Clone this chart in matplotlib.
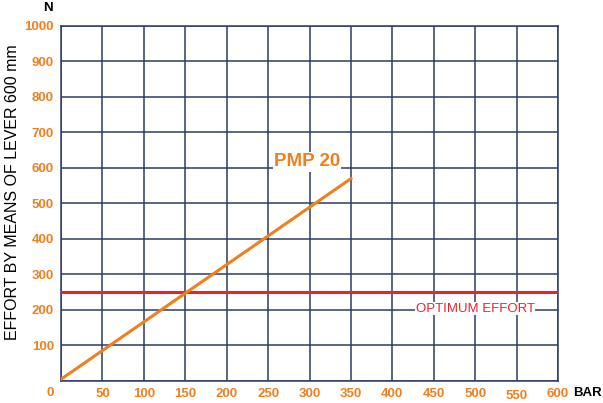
import matplotlib
matplotlib.use("Agg")
import matplotlib.pyplot as plt
import matplotlib.transforms as mtransforms

plt.rcParams["font.family"] = ["Liberation Sans", "DejaVu Sans"]

bar_values = [0, 350]
effort_values = [5, 570]
optimum_effort = 250
x_ticks = list(range(50, 601, 50))
y_ticks = list(range(100, 1001, 100))
series_label = "PMP 20"
optimum_label = "OPTIMUM EFFORT"

orange = "#f07f1e"
red = "#e4262b"
navy = "#2e3b66"

fig = plt.figure(figsize=(6.03, 4.03), dpi=100)
ax = fig.add_axes([0.1012, 0.0546, 0.8242, 0.881])
ax.set_xlim(0, 600)
ax.set_ylim(0, 1000)

ax.set_xticks(list(range(0, 601, 50)))
ax.set_yticks(list(range(0, 1001, 100)))
ax.grid(True, color=navy, linewidth=1.1)
ax.set_axisbelow(True)
for s in ax.spines.values():
    s.set_color(navy)
    s.set_linewidth(1.1)
ax.tick_params(length=0, colors=orange, labelsize=9.5)
ax.tick_params(axis="x", pad=5)
ax.tick_params(axis="y", pad=5)
ax.set_xticklabels([""] + [("" if v == 550 else str(v)) for v in x_ticks],
                   fontweight="bold", color=orange)
ax.set_yticklabels([""] + [str(v) for v in y_ticks], fontweight="bold", color=orange)

# the 550 label sits slightly lower in the reference
trans = mtransforms.blended_transform_factory(ax.transData, fig.transFigure)
ax.text(550, 1 - 396 / 403, "550", transform=trans, color=orange, fontsize=9.5,
        fontweight="bold", ha="center", va="center", clip_on=False)

ax.plot([0, 600], [optimum_effort, optimum_effort], color=red, linewidth=2.2, zorder=3)
ax.plot(bar_values, effort_values, color=orange, linewidth=2.2, zorder=4)

ax.text(297, 617, series_label, color=orange, fontsize=13.5, fontweight="bold",
        ha="center", va="center", zorder=5,
        bbox=dict(facecolor="white", edgecolor="none", pad=1))
ax.text(500, 204, optimum_label, color=red, fontsize=9.5,
        ha="center", va="center", zorder=5,
        bbox=dict(facecolor="white", edgecolor="none", pad=0.5))

fig.text(50 / 603, 1 - 393 / 403, "0", color=orange, fontsize=9.5, fontweight="bold",
         ha="center", va="center")
fig.text(48 / 603, 1 - 8 / 403, "N", color="black", fontsize=9.5, fontweight="bold",
         ha="center", va="center")
fig.text(573 / 603, 1 - 393 / 403, "BAR", color="black", fontsize=9.5, fontweight="bold",
         ha="left", va="center")
fig.text(13 / 603, 1 - 192 / 403, "EFFORT BY MEANS OF LEVER 600 mm", color="black",
         fontsize=11.5, rotation=90, ha="center", va="center")

fig.savefig("out.png", dpi=100)
